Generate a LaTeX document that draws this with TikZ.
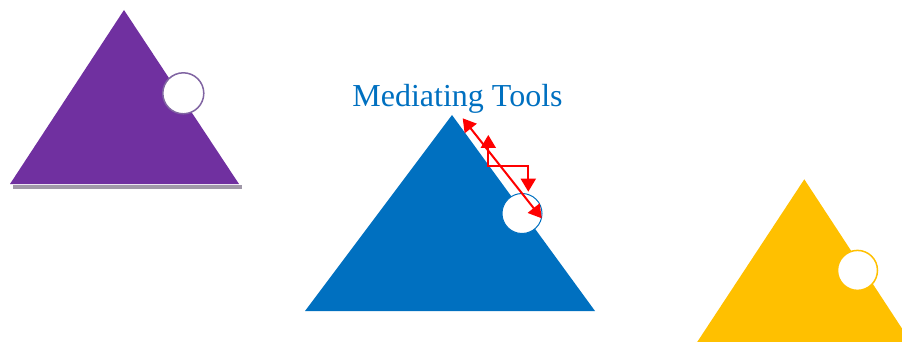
\documentclass[tikz,border=0pt]{standalone}
\usepackage{fontspec}
\setmainfont{Liberation Serif}
\usepackage{xcolor}
\usepackage{tikz}
\usetikzlibrary{arrows.meta, positioning}
\definecolor{toolpurple}{RGB}{112,48,160}
\definecolor{toolpurplerim}{RGB}{128,100,162}
\definecolor{toolblue}{RGB}{0,112,192}
\definecolor{toolyellow}{RGB}{255,192,0}
\definecolor{shadowgray}{RGB}{160,152,168}
\definecolor{linkred}{RGB}{255,0,0}
\tikzset{
  joint/.style={circle, fill=white, minimum size=40pt, inner sep=0pt, line width=1.5pt},
  linkarrow/.style={{Triangle[length=13pt,width=15pt]}-{Triangle[length=13pt,width=15pt]},
    line width=2pt, color=linkred},
  title/.style={font=\fontsize{32}{36}\selectfont, text=toolblue, anchor=base, inner sep=0pt},
}

\begin{document}
\begin{tikzpicture}[x=1pt, y=-1pt]
  \useasboundingbox (0,0) rectangle (902,342);
  \clip (0,0) rectangle (902,342);

  % purple triangle, with its shadow
  \fill[shadowgray] (13,185) rectangle (241.5,188.5);
  \fill[toolpurple] (124,10) -- (239,184) -- (10,184) -- cycle;
  \node[joint, draw=toolpurplerim, minimum size=41pt] (purplejoint) at (183.3,93.3) {};

  % blue triangle
  \fill[toolblue] (452,115) -- (595,311) -- (305,311) -- cycle;
  \node[joint, draw=toolblue, line width=1pt, minimum size=40pt] (bluejoint) at (522,213.5) {};
  \node[title] (tools) at (457.5,107) {Mediating Tools};

  % yellow triangle
  \fill[toolyellow] (804.3,179.3) -- (920,356) -- (688,356) -- cycle;
  \node[joint, draw=toolyellow, minimum size=40pt] (yellowjoint) at (857.5,270.4) {};

  % red links
  \coordinate (apex) at (462.7,118.3);
  \coordinate (rim) at (541.7,218.3);
  \coordinate (up) at (488.3,135);
  \coordinate (down) at (528.3,191.7);
  \draw[linkarrow] (apex) -- (rim);
  \draw[linkarrow] (up) |- ++(40,31) -- (down);
\end{tikzpicture}
\end{document}
